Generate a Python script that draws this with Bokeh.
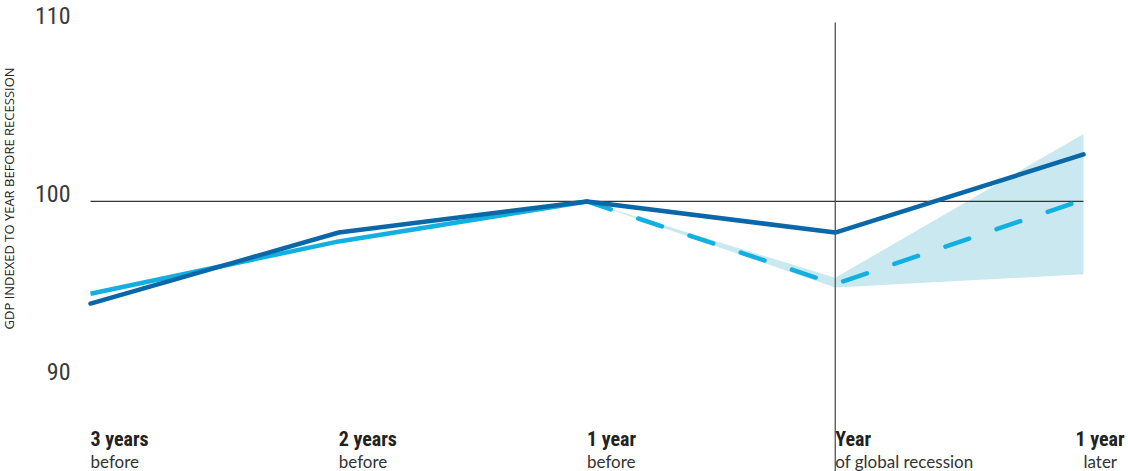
from bokeh.plotting import figure
from bokeh.models import Range1d
from bokeh.core.properties import value
from bokeh.embed import file_html
from bokeh.resources import INLINE
import math

# ---- data ----
cat_main = ["3 years", "2 years", "1 year", "Year", "1 year"]
cat_sub = ["before", "before", "before", "of global recession", "later"]
gdp_actual = [94.25, 98.25, 100.0, 98.25, 102.65]
gdp_forecast = [94.8, 97.75, 100.0, 95.35, 100.1]
band_upper = [100.0, 95.7, 103.8]
band_lower = [100.0, 95.15, 95.9]
y_ticks = [90, 100, 110]
y_title = "GDP INDEXED TO YEAR BEFORE RECESSION"

xs = list(range(len(cat_main)))
rec = 3          # index of recession year
split = 2        # forecast goes dashed from here

DARK = "#0a67a8"
LIGHT = "#12b0e0"
BAND = "#c9e8f0"
INK = "#333333"
COND = "Roboto Condensed"

p = figure(width=1128, height=471,
           x_range=Range1d(-0.3625, 4.1813), y_range=Range1d(84.79, 111.32),
           x_axis_type=None, y_axis_type=None,
           output_backend="svg", toolbar_location=None, min_border=0)
p.outline_line_color = None
p.background_fill_color = "white"
p.border_fill_color = "white"

# uncertainty band
p.varea(x=xs[split:], y1=band_lower, y2=band_upper, fill_color=BAND, fill_alpha=1.0)

# reference line at 100
p.line(x=[xs[0], xs[-1]], y=[100, 100], line_color=INK, line_width=1.2)

# vertical recession line
p.segment(x0=[xs[rec]], y0=[110.08], x1=[xs[rec]], y1=[84.0], line_color="#444444", line_width=1.2)

# forecast / peer line
p.line(x=xs[:split + 1], y=gdp_forecast[:split + 1], line_color=LIGHT, line_width=4.5, line_join="round")
p.line(x=xs[split:], y=gdp_forecast[split:], line_color=LIGHT, line_width=4.5,
       line_dash="25 29", line_cap="round", line_join="round")

# actual line
p.line(x=xs, y=gdp_actual, line_color=DARK, line_width=4.5, line_join="round", line_cap="round")

# y tick labels
p.text(x=[-0.0806] * len(y_ticks), y=y_ticks, text=[str(v) for v in y_ticks],
       text_align="right", text_baseline="alphabetic", y_offset=-8,
       text_font=value(COND), text_font_size="24px", text_color="#3a3a3a")

# y axis title
p.text(x=[-0.330], y=[100.17], text=[y_title], angle=math.pi / 2,
       text_align="center", text_baseline="middle",
       text_font=value("Open Sans"), text_font_size="13px", text_color="#222222")

# x category labels (last one nudged left so it stays inside the canvas)
main_nudge = [0] * (len(xs) - 1) + [-8]
p.text(x=xs, y=[86.25] * len(xs), text=cat_main, text_align="left", text_baseline="alphabetic",
       x_offset=main_nudge, y_offset=-7, text_font=value(COND), text_font_style="bold",
       text_font_size="20px", text_color="#222222")
p.text(x=xs, y=[85.07] * len(xs), text=cat_sub, text_align="left", text_baseline="alphabetic",
       y_offset=-5, text_font=value("Lato"), text_font_size="17px", text_color="#333333")

open("out.html", "w").write(file_html(p, INLINE))
